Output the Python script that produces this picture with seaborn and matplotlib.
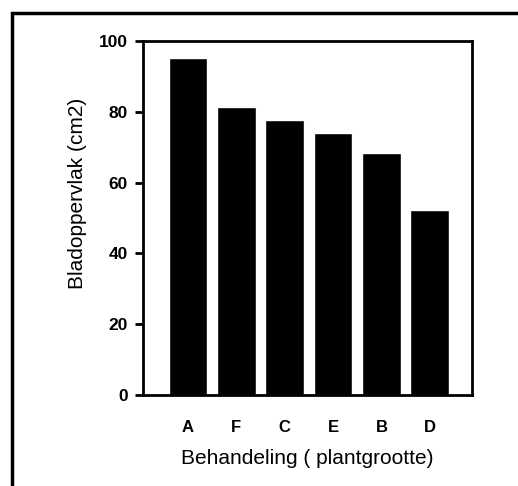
import pandas as pd
import matplotlib.pyplot as plt
import seaborn as sns
from matplotlib.patches import Rectangle

# leaf area per treatment
behandeling = ['A', 'F', 'C', 'E', 'B', 'D']
bladoppervlak = [95.2, 81.3, 77.7, 74.0, 68.4, 52.3]

df = pd.DataFrame({'Behandeling': behandeling, 'Bladoppervlak': bladoppervlak})

sns.set_style('white')
plt.rcParams['font.family'] = ['Liberation Sans', 'DejaVu Sans']
plt.rcParams['text.color'] = 'black'
plt.rcParams['axes.labelcolor'] = 'black'

fig = plt.figure(figsize=(5.18, 4.86), dpi=100)
ax = fig.add_axes([0.276, 0.187, 0.635, 0.729])

sns.barplot(data=df, x='Behandeling', y='Bladoppervlak', order=behandeling,
            color='black', saturation=1, width=0.8, ax=ax)

ax.set_ylim(0, 100)
ax.set_xlim(-0.93, 5.87)
ax.set_yticks([0, 20, 40, 60, 80, 100])
ax.tick_params(axis='y', direction='out', length=6, width=2, left=True,
               labelsize=12.5, pad=5, colors='black')
ax.tick_params(axis='x', length=0, labelsize=12, pad=18, colors='black')
for lab in ax.get_xticklabels() + ax.get_yticklabels():
    lab.set_fontweight('bold')
for s in ax.spines.values():
    s.set_visible(True)
    s.set_color('black')
    s.set_linewidth(2)

ax.set_xlabel('Behandeling ( plantgrootte)', fontsize=15, labelpad=10)
ax.set_ylabel('Bladoppervlak (cm2)', fontsize=15)
ax.yaxis.set_label_coords(-0.17, 0.57)

# outer frame around the whole figure (cut off on right and bottom)
fig.patches.append(Rectangle((12 / 518, -0.05), 1.1, 1 - 13 / 486 + 0.05,
                             transform=fig.transFigure, fill=False,
                             edgecolor='black', linewidth=2.5))

plt.savefig('out.png', dpi=100)
